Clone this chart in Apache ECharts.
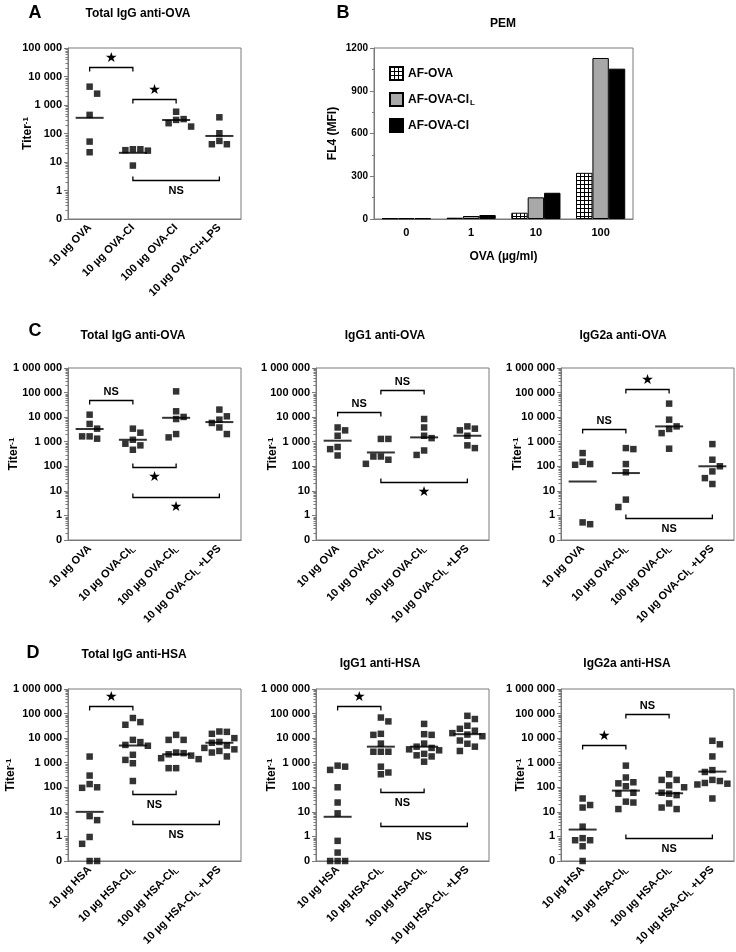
<!DOCTYPE html>
<html><head><meta charset="utf-8">
<script src="https://cdn.jsdelivr.net/npm/echarts@6/dist/echarts.min.js"></script>
<style>html,body{margin:0;padding:0;background:#fff}#c{width:736px;height:952px}</style>
</head><body><div id="c"></div>
<script>
// ================= DATA =================
// Panel A - Total IgG anti-OVA
const catA = ['10 µg OVA', '10 µg OVA-CI', '100 µg OVA-CI', '10 µg OVA-CI+LPS'];
const A_g1 = [4400, 2500, 450, 52, 22];
const A_g2 = [28, 26, 25, 28, 7.5];
const A_g3 = [580, 175, 300, 230, 320];
const A_g4 = [370, 102, 55, 42, 42];
const A_means = [355, 21, 297, 82];
const A_brackets = [
  {from: 0, to: 1, y: 21500, below: false, text: '★'},
  {from: 1, to: 2, y: 1660, below: false, text: '★'},
  {from: 1, to: 3, y: 2.3, below: true, text: 'NS'}
];

// Panel B - PEM
const catB = ['0', '1', '10', '100'];
const B_afova = [5, 9, 44, 324];
const B_afovacil = [5, 21, 152, 1130];
const B_afovaci = [5, 28, 184, 1055];

// Panel C categories
const catC = ['10 µg OVA', '10 µg OVA-CI_L', '100 µg OVA-CI_L', '10 µg OVA-CI_L +LPS'];
// C1 Total IgG anti-OVA
const C1_g1 = [12600, 5300, 3400, 1650, 1330, 1650];
const C1_g2 = [3400, 2330, 830, 1200, 710, 470];
const C1_g3 = [112000, 17300, 10200, 8400, 2050, 1500];
const C1_g4 = [20300, 10800, 7900, 5800, 3800, 2050];
const C1_means = [3300, 1200, 9400, 6300];
const C1_brackets = [
  {from: 0, to: 1, y: 51000, below: false, text: 'NS'},
  {from: 1, to: 2, y: 90, below: true, text: '★'},
  {from: 1, to: 3, y: 5.5, below: true, text: '★'}
];
// C2 IgG1 anti-OVA
const C2_g1 = [3800, 2900, 1750, 610, 500, 275];
const C2_g2 = [1300, 1300, 250, 250, 185, 126];
const C2_g3 = [8400, 3800, 1750, 1400, 440, 290];
const C2_g4 = [4200, 2900, 3400, 1750, 710, 550];
const C2_means = [1100, 365, 1500, 1750];
const C2_brackets = [
  {from: 0, to: 1, y: 16300, below: false, text: 'NS'},
  {from: 1, to: 2, y: 132000, below: false, text: 'NS'},
  {from: 1, to: 3, y: 24, below: true, text: '★'}
];
// C3 IgG2a anti-OVA
const C3_g1 = [345, 123, 115, 152, 0.44, 0.52];
const C3_g2 = [500, 550, 123, 57, 2.2, 4.4];
const C3_g3 = [35500, 7900, 4200, 2240, 3300, 520];
const C3_g4 = [800, 185, 100, 62, 33, 19];
const C3_means = [24, 53, 4200, 100];
const C3_brackets = [
  {from: 0, to: 1, y: 3300, below: false, text: 'NS'},
  {from: 1, to: 2, y: 141000, below: false, text: '★'},
  {from: 1, to: 3, y: 0.81, below: true, text: 'NS'}
];

// Panel D categories
const catD = ['10 µg HSA', '10 µg HSA-CI_L', '100 µg HSA-CI_L', '10 µg HSA-CI_L +LPS'];
// D1 Total IgG anti-HSA
const D1_g1 = [1780, 300, 95, 100, 135, 4.6, 6.7, 0.95, 0.5, 0, 0];
const D1_g2 = [66000, 45000, 35000, 8500, 6900, 5300, 4900, 2100, 1300, 950, 180];
const D1_g3 = [13600, 8500, 8500, 2600, 2450, 2200, 1950, 1530, 1400, 600, 600];
const D1_g4 = [18600, 18000, 15000, 10000, 7000, 6500, 5000, 4000, 3500, 3000, 2600, 1800];
const D1_means = [10, 5000, 2200, 6500];
const D1_brackets = [
  {from: 0, to: 1, y: 195000, below: false, text: '★'},
  {from: 1, to: 2, y: 53, below: true, text: 'NS'},
  {from: 1, to: 3, y: 3.2, below: true, text: 'NS'}
];
// D2 IgG1 anti-HSA
const D2_g1 = [760, 690, 510, 100, 24, 8.7, 0.66, 0.22, 0, 0, 0];
const D2_g2 = [69000, 48000, 15000, 13600, 6000, 2800, 2800, 2800, 690, 400, 340];
const D2_g3 = [38000, 14500, 13600, 6000, 4500, 4000, 3500, 3200, 2300, 2000, 1800, 1100];
const D2_g4 = [81000, 60000, 32000, 24000, 20000, 16000, 14000, 12000, 8000, 5900, 4500, 3000];
const D2_means = [6.3, 4500, 4500, 14500];
const D2_brackets = [
  {from: 0, to: 1, y: 195000, below: false, text: '★'},
  {from: 1, to: 2, y: 62, below: true, text: 'NS'},
  {from: 1, to: 3, y: 2.7, below: true, text: 'NS'}
];
// D3 IgG2a anti-HSA
const D3_g1 = [35, 19, 15, 2.5, 0.85, 0.7, 0.7, 0.4, 0];
const D3_g2 = [760, 250, 160, 145, 110, 60, 55, 26, 24, 13];
const D3_g3 = [340, 200, 200, 120, 100, 60, 55, 48, 22, 15, 13];
const D3_g4 = [7800, 5600, 1800, 500, 420, 200, 180, 150, 140, 130, 35];
const D3_means = [1.9, 73, 57, 435];
const D3_brackets = [
  {from: 0, to: 1, y: 5300, below: false, text: '★'},
  {from: 1, to: 2, y: 95000, below: false, text: 'NS'},
  {from: 1, to: 3, y: 0.83, below: true, text: 'NS'}
];

// ================= RENDER =================
const FONT = '"Liberation Sans", Arial, Helvetica, sans-serif';
const AX = '#7a7a7a';
const grids = [], xAxes = [], yAxes = [], series = [], graphics = [];
const FLOOR = 0.1; // position of the "0" tick on the pseudo-log axes

function fmtTiter(v) {
  if (v < 1) return '0';
  return String(Math.round(v)).replace(/\B(?=(\d{3})+(?!\d))/g, ' ');
}
function catFmt(s) { return s.replace('_L', '{sub|L}'); }

// beeswarm-like horizontal arrangement (pixel offsets) for overlapping symbols
function swarm(vals, ppd, d) {
  const pts = vals.map((v, i) => ({i, y: Math.log10(Math.max(v, FLOOR)) * ppd}));
  const order = pts.slice().sort((a, b) => b.y - a.y);
  const placed = [];
  const off = new Array(vals.length).fill(0);
  let bias = 1;
  for (const p of order) {
    let found = null;
    for (let s = 0; s < 200 && found === null; s += 0.5) {
      const cands = s === 0 ? [0] : [bias * s, -bias * s];
      for (const x of cands) {
        if (placed.every(q => !(Math.abs(x - q.x) < d && Math.abs(p.y - q.y) < d))) { found = x; break; }
      }
    }
    if (found !== 0) bias = found > 0 ? -1 : 1;
    placed.push({x: found, y: p.y});
    off[p.i] = found;
  }
  return off;
}

function dotPanel(box, cats, groups, means, brackets, yMax, nameGap) {
  const gi = grids.length;
  grids.push({left: box.x, top: box.y, width: box.w, height: box.h, show: true,
    borderColor: AX, borderWidth: 1, backgroundColor: 'transparent'});
  xAxes.push({
    type: 'category', gridIndex: gi, data: cats, boundaryGap: true,
    axisLine: {lineStyle: {color: AX, width: 1}},
    axisTick: {alignWithLabel: true, length: 4, lineStyle: {color: AX}},
    axisLabel: {rotate: 45, margin: 7, color: '#000', fontFamily: FONT, fontWeight: 'bold', fontSize: 11,
      interval: 0, formatter: catFmt,
      rich: {sub: {fontSize: 8, fontWeight: 'bold', fontFamily: FONT, color: '#000', verticalAlign: 'bottom', padding: [5, 0, 0, 0]}}},
    splitLine: {show: false}
  });
  yAxes.push({
    type: 'log', logBase: 10, gridIndex: gi, min: FLOOR, max: yMax,
    axisLine: {show: true, lineStyle: {color: AX, width: 1}},
    axisTick: {show: true, length: 4, lineStyle: {color: AX}},
    axisLabel: {formatter: fmtTiter, color: '#000', fontFamily: FONT, fontWeight: 'bold', fontSize: 11, margin: 6},
    splitLine: {show: false},
    name: '{t|Titer}{s|-1}', nameLocation: 'middle', nameGap: nameGap, nameRotate: 90, nameMoveOverlap: false,
    nameTextStyle: {rich: {
      t: {fontSize: 12, fontWeight: 'bold', fontFamily: FONT, color: '#000'},
      s: {fontSize: 8, fontWeight: 'bold', fontFamily: FONT, color: '#000', verticalAlign: 'top'}
    }}
  });
  const decades = Math.log10(yMax) - Math.log10(FLOOR);
  const ppd = box.h / decades;
  // minor ticks (2..9 x 10^k) drawn from the axis scale
  const decs = [];
  for (let k = Math.log10(FLOOR); k < Math.log10(yMax) - 0.5; k++) decs.push([0, Math.pow(10, k)]);
  series.push({
    type: 'custom', xAxisIndex: gi, yAxisIndex: gi, silent: true, z: 1, clip: false,
    data: decs, encode: {x: 0, y: 1},
    renderItem: (params, api) => {
      const base = api.value(1);
      const x0 = params.coordSys.x;
      const ch = [];
      for (let m = 2; m <= 9; m++) {
        const p = api.coord([0, base * m]);
        const yy = Math.round(p[1]) + 0.5;
        ch.push({type: 'line', shape: {x1: x0 - 2.5, y1: yy, x2: x0, y2: yy}, style: {stroke: AX, lineWidth: 1}});
      }
      return {type: 'group', children: ch};
    }
  });
  // data points
  const pts = [];
  groups.forEach((vals, g) => {
    const offs = swarm(vals, ppd, 7.5);
    vals.forEach((v, i) => pts.push({value: [g, Math.max(v, FLOOR)], symbolOffset: [offs[i], 0]}));
  });
  series.push({type: 'scatter', xAxisIndex: gi, yAxisIndex: gi, symbol: 'rect', symbolSize: 6.5,
    itemStyle: {color: '#000'}, data: pts, silent: true, z: 3});
  // mean lines
  series.push({type: 'scatter', xAxisIndex: gi, yAxisIndex: gi, symbol: 'rect', symbolSize: [28, 2],
    itemStyle: {color: '#000'}, data: means.map((m, g) => [g, m]), silent: true, z: 2});
  // significance brackets
  series.push({
    type: 'custom', xAxisIndex: gi, yAxisIndex: gi, silent: true, z: 4, clip: false,
    data: brackets.map(b => [b.from, b.to, b.y]), encode: {x: [0, 1], y: 2},
    renderItem: (params, api) => {
      const b = brackets[params.dataIndex];
      const p1 = api.coord([b.from, b.y]);
      const p2 = api.coord([b.to, b.y]);
      const t = b.below ? -4 : 4;
      const yy = Math.round(p1[1]) + 0.5;
      const star = b.text === '★';
      return {type: 'group', children: [
        {type: 'polyline', shape: {points: [[p1[0], yy + t], [p1[0], yy], [p2[0], yy], [p2[0], yy + t]]},
          style: {stroke: '#000', lineWidth: 1.3, fill: null}},
        {type: 'text', style: {text: b.text, x: (p1[0] + p2[0]) / 2, y: yy + (b.below ? 10 : -9),
          textAlign: 'center', textVerticalAlign: 'middle', fill: '#000',
          font: star ? '14px "DejaVu Sans", sans-serif' : 'bold 11px ' + FONT}}
      ]};
    }
  });
}

// Panel A
dotPanel({x: 68, y: 48, w: 173, h: 171}, catA, [A_g1, A_g2, A_g3, A_g4], A_means, A_brackets, 100000, 34);

// Panel B
(function () {
  const gi = grids.length;
  grids.push({left: 374, top: 48, width: 259, height: 171, show: true, borderColor: AX, borderWidth: 1});
  xAxes.push({type: 'category', gridIndex: gi, data: catB,
    axisLine: {lineStyle: {color: AX}}, axisTick: {show: false},
    axisLabel: {color: '#000', fontFamily: FONT, fontWeight: 'bold', fontSize: 11, margin: 8},
    name: 'OVA (µg/ml)', nameLocation: 'middle', nameGap: 32, nameMoveOverlap: false,
    nameTextStyle: {color: '#000', fontFamily: FONT, fontWeight: 'bold', fontSize: 12}});
  yAxes.push({type: 'value', gridIndex: gi, min: 0, max: 1200, interval: 300,
    axisLine: {show: true, lineStyle: {color: AX}},
    axisTick: {show: true, length: 4, lineStyle: {color: AX}},
    minorTick: {show: true, splitNumber: 2, length: 2, lineStyle: {color: AX}},
    splitLine: {show: false}, minorSplitLine: {show: false},
    axisLabel: {color: '#000', fontFamily: FONT, fontWeight: 'bold', fontSize: 10, margin: 6,
      formatter: v => String(v)},
    name: 'FL4 (MFI)', nameLocation: 'middle', nameGap: 35, nameRotate: 90, nameMoveOverlap: false,
    nameTextStyle: {color: '#000', fontFamily: FONT, fontWeight: 'bold', fontSize: 12}});
  const cv = document.createElement('canvas');
  cv.width = 4; cv.height = 4;
  const cx = cv.getContext('2d');
  cx.fillStyle = '#fff'; cx.fillRect(0, 0, 4, 4);
  cx.fillStyle = '#000'; cx.fillRect(0, 0, 4, 1); cx.fillRect(0, 0, 1, 4);
  const common = {type: 'bar', xAxisIndex: gi, yAxisIndex: gi, barGap: '0%', barCategoryGap: '24%', silent: true};
  series.push(Object.assign({}, common, {name: 'AF-OVA', data: B_afova,
    itemStyle: {color: {image: cv, repeat: 'repeat'}, borderColor: '#000', borderWidth: 1}}));
  series.push(Object.assign({}, common, {name: 'AF-OVA-CI_L', data: B_afovacil,
    itemStyle: {color: '#a8a8a8', borderColor: '#000', borderWidth: 1}}));
  series.push(Object.assign({}, common, {name: 'AF-OVA-CI', data: B_afovaci,
    itemStyle: {color: '#000', borderColor: '#000', borderWidth: 1}}));
})();

// Panel C
dotPanel({x: 68, y: 368, w: 173, h: 172}, catC, [C1_g1, C1_g2, C1_g3, C1_g4], C1_means, C1_brackets, 1000000, 48);
dotPanel({x: 316, y: 368, w: 173, h: 172}, catC, [C2_g1, C2_g2, C2_g3, C2_g4], C2_means, C2_brackets, 1000000, 37);
dotPanel({x: 561, y: 368, w: 173, h: 172}, catC, [C3_g1, C3_g2, C3_g3, C3_g4], C3_means, C3_brackets, 1000000, 37);
// Panel D
dotPanel({x: 68, y: 689, w: 173, h: 172}, catD, [D1_g1, D1_g2, D1_g3, D1_g4], D1_means, D1_brackets, 1000000, 51);
dotPanel({x: 316, y: 689, w: 173, h: 172}, catD, [D2_g1, D2_g2, D2_g3, D2_g4], D2_means, D2_brackets, 1000000, 38);
dotPanel({x: 561, y: 689, w: 173, h: 172}, catD, [D3_g1, D3_g2, D3_g3, D3_g4], D3_means, D3_brackets, 1000000, 34);

function txt(s, x, y, size) {
  graphics.push({type: 'text', silent: true, style: {text: s, x: x, y: y, textAlign: 'center', textVerticalAlign: 'middle',
    fill: '#000', font: 'bold ' + size + 'px ' + FONT}});
}
txt('A', 35, 13, 18);
txt('Total IgG anti-OVA', 138, 14, 12);
txt('B', 343, 13, 18);
txt('PEM', 503, 24, 12);
txt('C', 35, 331, 18);
txt('Total IgG anti-OVA', 133, 336, 12);
txt('IgG1 anti-OVA', 385, 336, 12);
txt('IgG2a anti-OVA', 623, 336, 12);
txt('D', 33, 653, 18);
txt('Total IgG anti-HSA', 134, 655, 12);
txt('IgG1 anti-HSA', 380, 664, 12);
txt('IgG2a anti-HSA', 627, 664, 12);

const chart = echarts.init(document.getElementById('c'), null, {renderer: 'canvas', width: 736, height: 952});
chart.setOption({
  animation: false,
  backgroundColor: '#fff',
  grid: grids, xAxis: xAxes, yAxis: yAxes, series: series,
  legend: {
    data: ['AF-OVA', 'AF-OVA-CI_L', 'AF-OVA-CI'], orient: 'vertical', left: 384, top: 61,
    itemWidth: 13, itemHeight: 13, itemGap: 11, icon: 'rect', selectedMode: false,
    formatter: n => n.replace('_L', '{sub|L}'),
    textStyle: {color: '#000', fontFamily: FONT, fontWeight: 'bold', fontSize: 12,
      rich: {sub: {fontSize: 8, fontWeight: 'bold', fontFamily: FONT, color: '#000', verticalAlign: 'bottom', padding: [6, 0, 0, 1]}}}
  },
  graphic: graphics
});
</script>
</body></html>
